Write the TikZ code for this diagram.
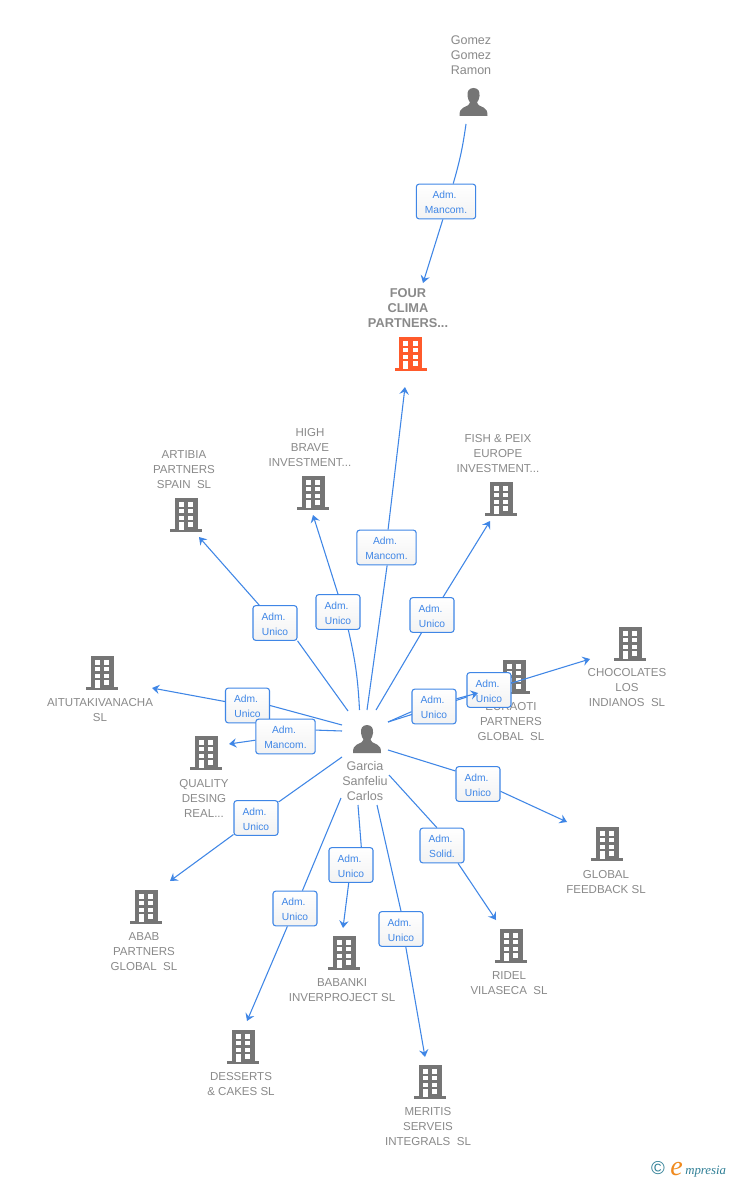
\documentclass[tikz,border=0pt]{standalone}
\usepackage{fontspec}
\setmainfont{Liberation Sans}
\newfontfamily\logofont{Liberation Serif}
\usetikzlibrary{arrows.meta,shadings}
\definecolor{icongray}{HTML}{757575}
\definecolor{namegray}{HTML}{8A8A8A}
\definecolor{linkblue}{HTML}{3F86E6}
\definecolor{mainorange}{HTML}{FF5A2B}
\definecolor{logoteal}{HTML}{2F7F96}
\definecolor{logoorange}{HTML}{F08A1E}
\tikzset{
  x=0.75pt,y=-0.75pt,
  entity/.style={font=\fontsize{8.65pt}{11.25pt}\selectfont,text=namegray,align=center,inner sep=0pt,anchor=center,yshift=-0.75pt},
  personname/.style={font=\fontsize{9.4pt}{11.25pt}\selectfont,text=namegray,align=center,inner sep=0pt,anchor=center},
  mainentity/.style={font=\fontsize{9.6pt}{11.25pt}\selectfont\bfseries,text=namegray,align=center,inner sep=0pt,anchor=center},
  role/.style={draw=linkblue,line width=0.8pt,rounded corners=2pt,top color=white,bottom color=white!95!black,
    text=linkblue,font=\fontsize{7.7pt}{11.25pt}\selectfont,align=center,inner sep=0pt,minimum height=26pt},
  roleu/.style={role,minimum width=33pt},
  rolem/.style={role,minimum width=44.5pt},
  link/.style={draw=linkblue,line width=0.8pt},
  linkto/.style={link,-{Stealth[length=5.5pt,width=7pt,inset=2pt]}},
  pics/building/.style={code={
    \fill[#1] (-11.5,-16.7) rectangle (11.5,15);
    \fill[#1] (-16,14.3) rectangle (16,17.3);
    \foreach \yy in {-12.7,-6,1}{
      \fill[white] (-7.5,\yy) rectangle (-2.5,\yy+4.4);
      \fill[white] (2,\yy) rectangle (7,\yy+4.4);}
    \fill[white] (2,7.3) rectangle (7,11.7);
    \fill[white] (-7.5,7.3) rectangle (-2.5,15);
  }},
  pics/person/.style={code={
    \fill[icongray] (0,-14) .. controls (-5,-14) and (-6.5,-10) .. (-6,-6)
      .. controls (-5.8,-3) and (-4.5,-1) .. (-3.5,0.5)
      .. controls (-3.5,3) and (-6,3.5) .. (-10,5.5)
      .. controls (-13,7) and (-14,9) .. (-14,14)
      -- (14,14) .. controls (14,9) and (13,7) .. (10,5.5)
      .. controls (6,3.5) and (3.5,3) .. (3.5,0.5)
      .. controls (4.5,-1) and (5.8,-3) .. (6,-6)
      .. controls (6.5,-10) and (5,-14) .. (0,-14) -- cycle;
  }}
}
\newcommand{\adm}{\mbox{\rule{0pt}{7.2pt}Adm.\ }}
\begin{document}
\begin{tikzpicture}
\useasboundingbox (0,0) rectangle (728,1180);
\fill[white] (0,0) rectangle (728,1180);

% icons
\pic at (473.5,102) {person};
\pic at (367,739) {person};
\pic at (410.5,354) {building=mainorange};
\pic at (186,515) {building=icongray};
\pic at (313,493) {building=icongray};
\pic at (501,499) {building=icongray};
\pic at (630,644) {building=icongray};
\pic at (514,677) {building=icongray};
\pic at (102,673) {building=icongray};
\pic at (206,753) {building=icongray};
\pic at (146,907) {building=icongray};
\pic at (243,1047) {building=icongray};
\pic at (344,953) {building=icongray};
\pic at (430,1082) {building=icongray};
\pic at (511,946) {building=icongray};
\pic at (607,844) {building=icongray};

% names
\node[personname] (gomez) at (471,55) {Gomez\\Gomez\\Ramon};
\node[mainentity] (four) at (408,308) {FOUR\\CLIMA\\PARTNERS...};
\node[entity] (artibia) at (184,469) {ARTIBIA\\PARTNERS\\SPAIN\ \ SL};
\node[entity] (high) at (310,447) {HIGH\\BRAVE\\INVESTMENT...};
\node[entity] (fish) at (498,453) {FISH \& PEIX\\EUROPE\\INVESTMENT...};
\node[entity] (choco) at (627,687) {CHOCOLATES\\LOS\\INDIANOS\ \ SL};
\node[entity] (euraoti) at (511,721) {EURAOTI\\PARTNERS\\GLOBAL\ \ SL};
\node[entity] (aitu) at (100,709.5) {AITUTAKIVANACHA\\SL};
\node[entity] (quality) at (204,797) {QUALITY\\DESING\\REAL...};
\node[personname] (garcia) at (365,781) {Garcia\\Sanfeliu\\Carlos};
\node[entity] (abab) at (144,951) {ABAB\\PARTNERS\\GLOBAL\ \ SL};
\node[entity] (desserts) at (241,1083.5) {DESSERTS\\\&\ CAKES SL};
\node[entity] (babanki) at (342,989.5) {BABANKI\\INVERPROJECT SL};
\node[entity] (meritis) at (428,1126) {MERITIS\\SERVEIS\\INTEGRALS\ \ SL};
\node[entity] (ridel) at (509,982.5) {RIDEL\\VILASECA\ \ SL};
\node[entity] (globalf) at (606,881.5) {GLOBAL\\FEEDBACK SL};

% free ends of the connectors
\coordinate (sgomez) at (466,124);
\coordinate (efour) at (423,283);
\coordinate (sfour) at (367,710);
\coordinate (efourb) at (405,387);
\coordinate (shigh) at (359.5,710);
\coordinate (ehigh) at (313,515);
\coordinate (sartibia) at (348,711);
\coordinate (eartibia) at (199,537);
\coordinate (sfish) at (376,710);
\coordinate (efish) at (490,521);
\coordinate (saitu) at (342,725);
\coordinate (eaitu) at (152,688);
\coordinate (squal) at (342,731);
\coordinate (equal) at (229,744);
\coordinate (sabab) at (342,757);
\coordinate (eabab) at (170,881);
\coordinate (sdess) at (341,798);
\coordinate (edess) at (247,1021);
\coordinate (sbab) at (358,805);
\coordinate (ebab) at (343,928);
\coordinate (smer) at (377,805);
\coordinate (emer) at (425,1057);
\coordinate (srid) at (389,775);
\coordinate (erid) at (496,920);
\coordinate (sglob) at (388,750);
\coordinate (eglob) at (567,822);
\coordinate (seur) at (388,722);
\coordinate (eeur) at (478,693);
\coordinate (echo) at (590,659);

% Gomez -> Four
\node[rolem] (lgomez) at (446,201.5) {\adm\\Mancom.};
\draw[link] (sgomez) to[bend left=4] (lgomez.68);
\draw[linkto] (lgomez.-100) -- (efour);

% Garcia -> Four
\node[rolem] (lfour) at (386.5,547.5) {\adm\\Mancom.};
\draw[link] (sfour) -- (lfour.-88);
\draw[linkto] (lfour.85) -- (efourb);

% Garcia -> High
\node[roleu] (lhigh) at (338,612) {\adm\\Unico};
\draw[link] (shigh) to[bend right=5] (lhigh.-60);
\draw[linkto] (lhigh.north) -- (ehigh);

% Garcia -> Artibia
\node[roleu] (lart) at (275,623) {\adm\\Unico};
\draw[link] (sartibia) -- (lart.south east);
\draw[linkto] (lart) -- (eartibia);

% Garcia -> Fish
\node[roleu] (lfish) at (432,615) {\adm\\Unico};
\draw[link] (sfish) -- (lfish);
\draw[linkto] (lfish) -- (efish);

% Garcia -> Chocolates (passes under the next box)
\node[roleu] (lcho) at (489,690) {\adm\\Unico};
\draw[link] (seur) -- (lcho);
\draw[linkto] (lcho) -- (echo);

% Garcia -> Euraoti
\node[roleu] (leur) at (434,706.5) {\adm\\Unico};
\draw[link] (seur) -- (leur.193);
\draw[linkto] (leur.19) -- (eeur);

% Garcia -> Global
\node[roleu] (lglob) at (478,784) {\adm\\Unico};
\draw[link] (sglob) -- (lglob.150);
\draw[linkto] (lglob.-18) -- (eglob);

% Garcia -> Ridel
\node[roleu] (lrid) at (442,845.5) {\adm\\Solid.};
\draw[link] (srid) -- (lrid.106);
\draw[linkto] (lrid.-48) -- (erid);

% Garcia -> Meritis
\node[roleu] (lmer) at (401,929) {\adm\\Unico};
\draw[link] (smer) -- (lmer.north);
\draw[linkto] (lmer.-75) -- (emer);

% Garcia -> Babanki
\node[roleu] (lbab) at (351,865) {\adm\\Unico};
\draw[link] (sbab) -- (lbab.60);
\draw[linkto] (lbab) -- (ebab);

% Garcia -> Desserts
\node[roleu] (ldess) at (295,908.5) {\adm\\Unico};
\draw[link] (sdess) -- (ldess);
\draw[linkto] (ldess) -- (edess);

% Garcia -> Abab
\node[roleu] (labab) at (256,818) {\adm\\Unico};
\draw[link] (sabab) -- (labab);
\draw[linkto] (labab) -- (eabab);

% Garcia -> Aitutakivanacha
\node[roleu] (laitu) at (247.5,705.5) {\adm\\Unico};
\draw[link] (saitu) -- (laitu.east);
\draw[linkto] (laitu.170) -- (eaitu);

% Garcia -> Quality
\node[rolem] (lqual) at (285.5,736.5) {\adm\\Mancom.};
\draw[link] (squal) -- (lqual.12);
\draw[linkto] (lqual.187) -- (equal);

% logo
\node[inner sep=0pt,text=logoteal,font=\fontsize{14pt}{14pt}\selectfont] (copy) at (658,1168.5) {©};
\node[inner sep=0pt,text=logoorange,font=\logofont\fontsize{21pt}{21pt}\selectfont\itshape,anchor=base west] (logoe) at (670,1175) {e};
\node[inner sep=0pt,text=logoteal,font=\logofont\fontsize{9.6pt}{10pt}\selectfont\itshape,anchor=base west] (logot) at (685,1174.5) {mpresia};
\end{tikzpicture}
\end{document}
